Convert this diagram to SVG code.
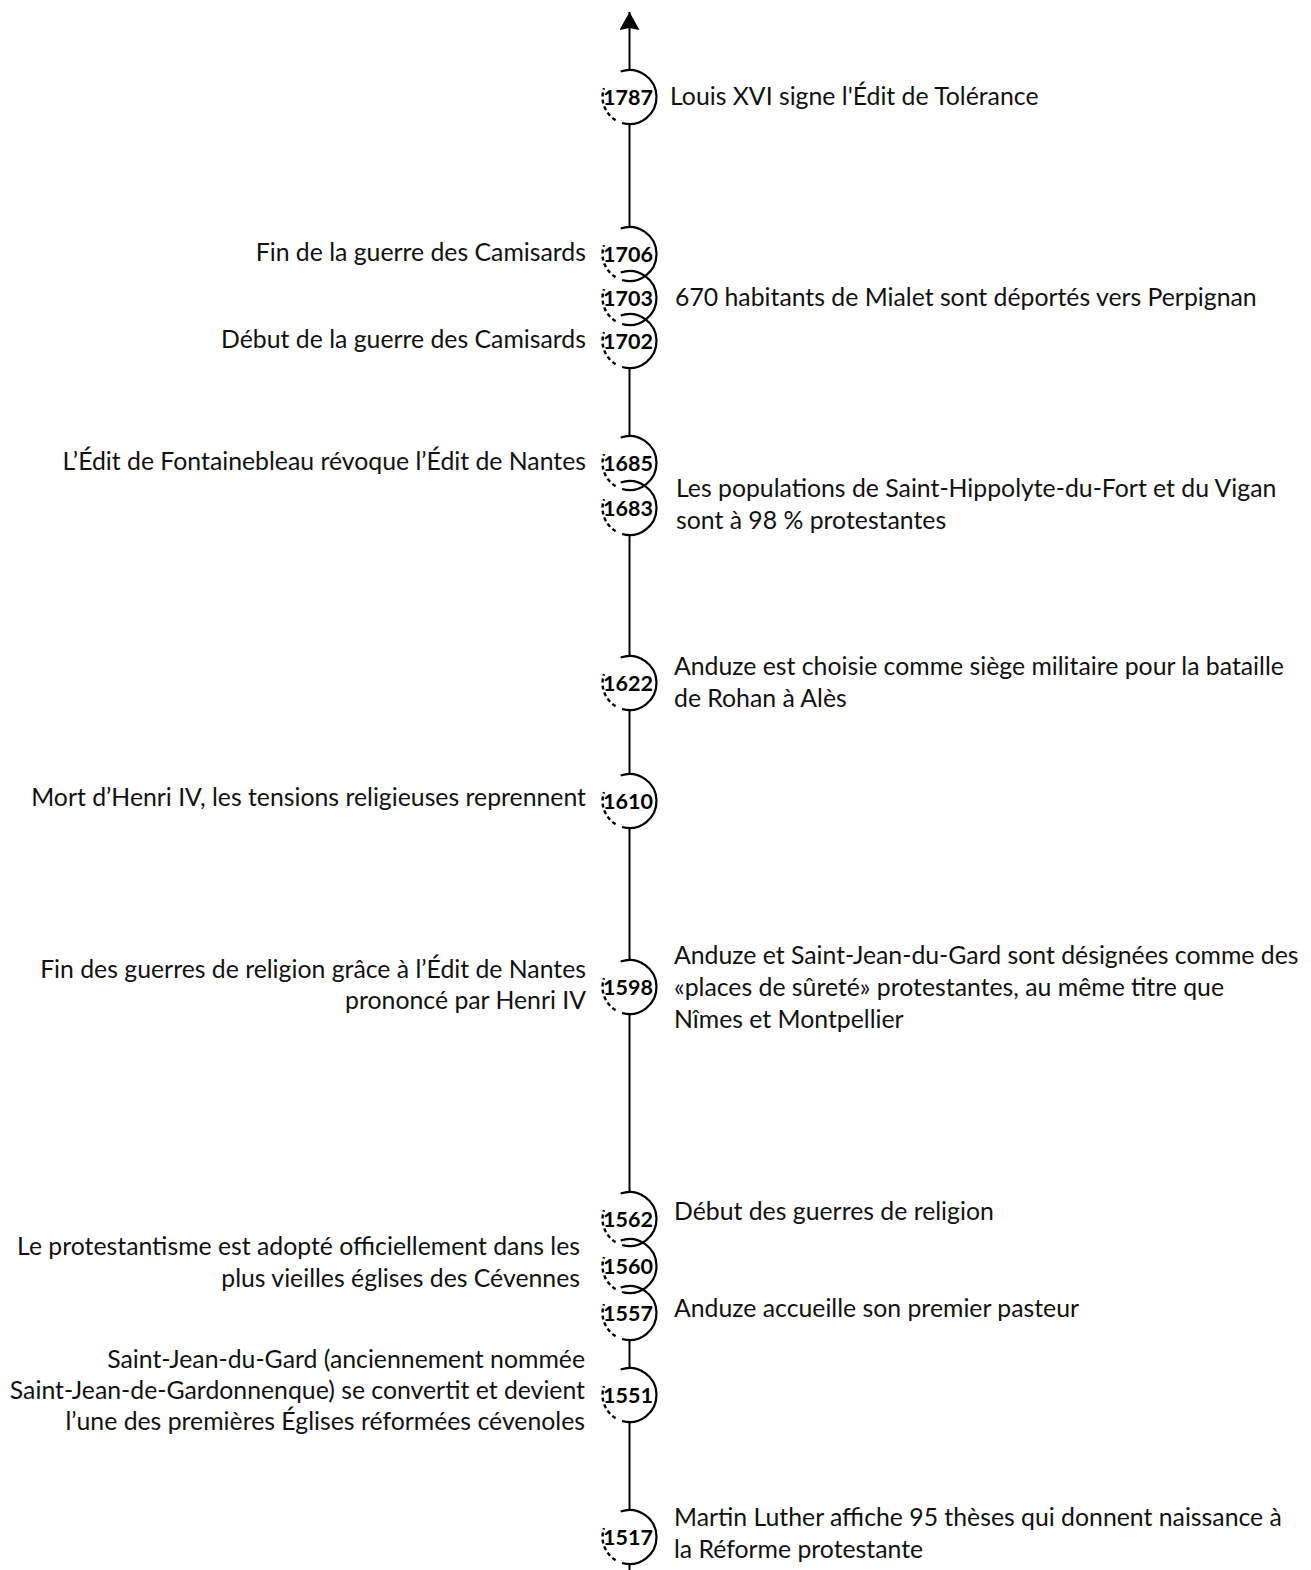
<svg xmlns="http://www.w3.org/2000/svg" xmlns:xlink="http://www.w3.org/1999/xlink" width="1311" height="1570" viewBox="0 0 1311 1570">
<style>
.bg{fill:#ffffff}
.ax{stroke:#000;stroke-width:2;fill:none}
.arc{stroke:#000;stroke-width:2.2;fill:none}
.dash{stroke:#000;stroke-width:2.4;fill:none;stroke-dasharray:4 3}
.yr{font-family:Lato,"Liberation Sans",sans-serif;font-weight:bold;font-size:21.5px;fill:#000;text-anchor:middle}
.tr{font-family:Lato,"Liberation Sans",sans-serif;font-size:24.8px;fill:#111}
.tl{font-family:Lato,"Liberation Sans",sans-serif;font-size:24.8px;fill:#111;text-anchor:end}
</style>
<defs>
<g id="mark">
<path class="arc" d="M -8.8 -25.5 A 27 27 0 1 1 -7.4 26"/>
<path class="dash" d="M -13.9 23.1 A 27 27 0 0 1 -25.5 -8.8"/>
</g>
<marker id="arrow" markerWidth="20" markerHeight="20" viewBox="0 0 20 20" refX="18" refY="10" orient="auto" markerUnits="userSpaceOnUse">
<path d="M0 0 L18 10 L0 20 L2 10 Z" fill="#000"/>
</marker>
</defs>
<rect class="bg" x="0" y="0" width="1311" height="1570"/>
<g id="connectors">
<line class="ax" x1="629.5" y1="70" x2="629.5" y2="12" marker-end="url(#arrow)"/>
<line class="ax" x1="629.5" y1="124" x2="629.5" y2="227"/>
<line class="ax" x1="629.5" y1="368" x2="629.5" y2="436"/>
<line class="ax" x1="629.5" y1="535" x2="629.5" y2="656"/>
<line class="ax" x1="629.5" y1="710" x2="629.5" y2="774"/>
<line class="ax" x1="629.5" y1="828" x2="629.5" y2="960"/>
<line class="ax" x1="629.5" y1="1014" x2="629.5" y2="1192"/>
<line class="ax" x1="629.5" y1="1340" x2="629.5" y2="1368"/>
<line class="ax" x1="629.5" y1="1422" x2="629.5" y2="1510"/>
<line class="ax" x1="629.5" y1="1564" x2="629.5" y2="1570"/>
</g>
<g id="n1787">
<use xlink:href="#mark" transform="translate(629.5 97)"/>
<text class="yr" x="628" y="105">1787</text>
<text class="tr" x="670" y="105">Louis XVI signe l'Édit de Tolérance</text>
</g>
<g id="n1706">
<use xlink:href="#mark" transform="translate(629.5 254)"/>
<text class="yr" x="628" y="262">1706</text>
<text class="tl" x="586" y="261">Fin de la guerre des Camisards</text>
</g>
<g id="n1703">
<use xlink:href="#mark" transform="translate(629.5 298)"/>
<text class="yr" x="628" y="306">1703</text>
<text class="tr" x="675" y="306">670 habitants de Mialet sont déportés vers Perpignan</text>
</g>
<g id="n1702">
<use xlink:href="#mark" transform="translate(629.5 341)"/>
<text class="yr" x="628" y="349">1702</text>
<text class="tl" x="586" y="348">Début de la guerre des Camisards</text>
</g>
<g id="n1685">
<use xlink:href="#mark" transform="translate(629.5 463)"/>
<text class="yr" x="628" y="471">1685</text>
<text class="tl" x="586" y="470">L’Édit de Fontainebleau révoque l’Édit de Nantes</text>
</g>
<g id="n1683">
<use xlink:href="#mark" transform="translate(629.5 508)"/>
<text class="yr" x="628" y="516">1683</text>
<text class="tr" x="676" y="497">Les populations de Saint-Hippolyte-du-Fort et du Vigan</text>
<text class="tr" x="676" y="529">sont à 98 % protestantes</text>
</g>
<g id="n1622">
<use xlink:href="#mark" transform="translate(629.5 683)"/>
<text class="yr" x="628" y="691">1622</text>
<text class="tr" x="674" y="675">Anduze est choisie comme siège militaire pour la bataille</text>
<text class="tr" x="674" y="707">de Rohan à Alès</text>
</g>
<g id="n1610">
<use xlink:href="#mark" transform="translate(629.5 801)"/>
<text class="yr" x="628" y="809">1610</text>
<text class="tl" x="586" y="806">Mort d’Henri IV, les tensions religieuses reprennent</text>
</g>
<g id="n1598">
<use xlink:href="#mark" transform="translate(629.5 987)"/>
<text class="yr" x="628" y="995">1598</text>
<text class="tl" x="586" y="978">Fin des guerres de religion grâce à l’Édit de Nantes</text>
<text class="tl" x="586" y="1009">prononcé par Henri IV</text>
<text class="tr" x="674" y="964">Anduze et Saint-Jean-du-Gard sont désignées comme des</text>
<text class="tr" x="674" y="996">«places de sûreté» protestantes, au même titre que</text>
<text class="tr" x="674" y="1028">Nîmes et Montpellier</text>
</g>
<g id="n1562">
<use xlink:href="#mark" transform="translate(629.5 1219)"/>
<text class="yr" x="628" y="1227">1562</text>
<text class="tr" x="674" y="1220">Début des guerres de religion</text>
</g>
<g id="n1560">
<use xlink:href="#mark" transform="translate(629.5 1266)"/>
<text class="yr" x="628" y="1274">1560</text>
<text class="tl" x="580" y="1255">Le protestantisme est adopté officiellement dans les</text>
<text class="tl" x="580" y="1287">plus vieilles églises des Cévennes</text>
</g>
<g id="n1557">
<use xlink:href="#mark" transform="translate(629.5 1313)"/>
<text class="yr" x="628" y="1321">1557</text>
<text class="tr" x="674" y="1317">Anduze accueille son premier pasteur</text>
</g>
<g id="n1551">
<use xlink:href="#mark" transform="translate(629.5 1395)"/>
<text class="yr" x="628" y="1403">1551</text>
<text class="tl" x="585" y="1368">Saint-Jean-du-Gard (anciennement nommée</text>
<text class="tl" x="585" y="1399">Saint-Jean-de-Gardonnenque) se convertit et devient</text>
<text class="tl" x="585" y="1430">l’une des premières Églises réformées cévenoles</text>
</g>
<g id="n1517">
<use xlink:href="#mark" transform="translate(629.5 1537)"/>
<text class="yr" x="628" y="1545">1517</text>
<text class="tr" x="674" y="1526">Martin Luther affiche 95 thèses qui donnent naissance à</text>
<text class="tr" x="674" y="1558">la Réforme protestante</text>
</g>
</svg>
